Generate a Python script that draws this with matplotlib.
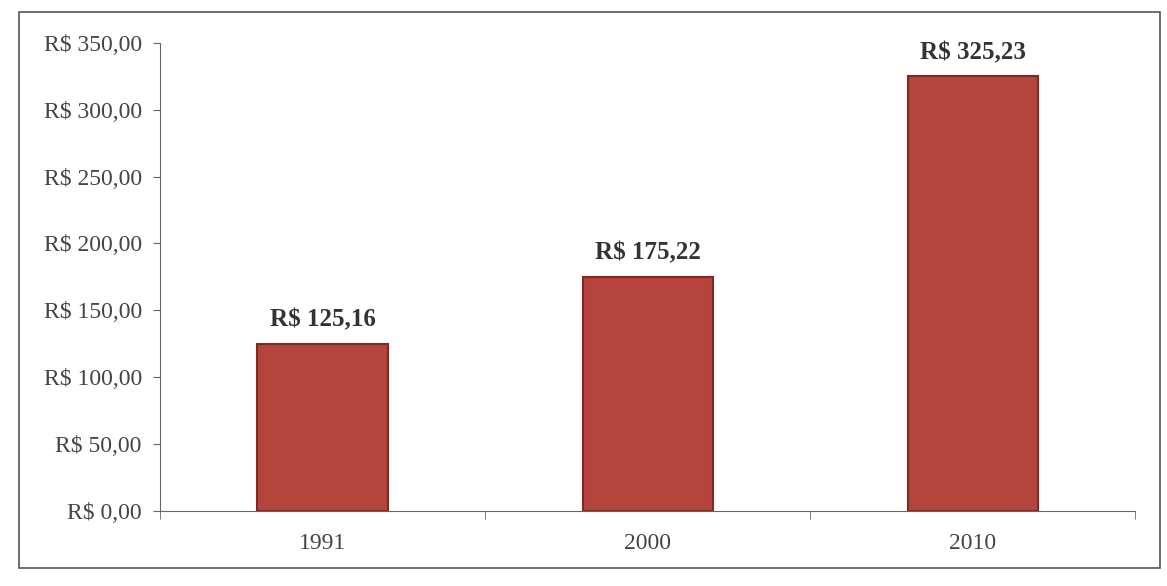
import matplotlib
matplotlib.use("Agg")
import matplotlib.pyplot as plt
from matplotlib.patches import Rectangle

years = ["1991", "2000", "2010"]
values = [125.16, 175.22, 325.23]
y_ticks = [0, 50, 100, 150, 200, 250, 300, 350]


def brl(v):
    return "R$ {:,.2f}".format(v).replace(",", "X").replace(".", ",").replace("X", ".")


plt.rcParams['font.family'] = ['Liberation Serif', 'DejaVu Serif']

fig = plt.figure(figsize=(11.67, 5.86), dpi=100)
ax = fig.add_axes([0.137, 0.128, 0.836, 0.799])

x = list(range(len(years)))
bars = ax.bar(x, values, width=0.4, color="#b5443d", edgecolor="#7e2a24", linewidth=1.5)

for b, v in zip(bars, values):
    ax.text(b.get_x() + b.get_width() / 2, v + 9, brl(v), ha="center", va="bottom",
            fontsize=18, fontweight="bold", color="#333333")

ax.set_xlim(-0.5, len(years) - 0.5)
ax.set_ylim(0, 350)
ax.set_yticks(y_ticks)
ax.set_yticklabels([brl(v) for v in y_ticks], fontsize=17, color="#444444")
ax.set_xticks(x)
ax.set_xticklabels(years, fontsize=17, color="#444444")
ax.set_xticks([i + 0.5 for i in range(-1, len(years))], minor=True)
ax.tick_params(axis="x", which="major", length=0, pad=16)
ax.tick_params(axis="x", which="minor", length=6, color="#666666")
ax.tick_params(axis="y", length=5, color="#666666", pad=8)

for s in ["top", "right"]:
    ax.spines[s].set_visible(False)
for s in ["left", "bottom"]:
    ax.spines[s].set_color("#666666")

# outer frame of the chart area
fig.patches.append(Rectangle((0.016, 0.03), 0.978, 0.95, transform=fig.transFigure,
                             fill=False, edgecolor="#555555", linewidth=1.2))

fig.savefig("out.png", dpi=100)
